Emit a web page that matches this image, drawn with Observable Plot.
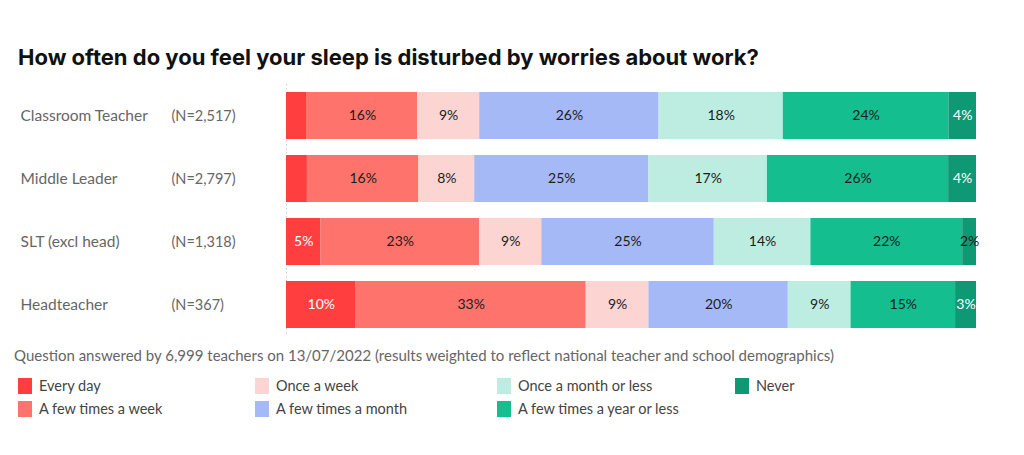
<!DOCTYPE html>
<html>
<head>
<meta charset="utf-8">
<script src="https://cdn.jsdelivr.net/npm/d3@7"></script>
<script src="https://cdn.jsdelivr.net/npm/@observablehq/plot@0.6"></script>
<style>
  html, body { margin: 0; padding: 0; background: #fff; }
  body { width: 1024px; height: 455px; position: relative; overflow: hidden; font-family: Lato, "Noto Sans", sans-serif; }
  #title { position: absolute; left: 18px; top: 44px; font-family: Inter, Lato, sans-serif; font-weight: 700; font-size: 22px; color: #111; white-space: nowrap; }
  #chart { position: absolute; left: 0; top: 80px; }
  #caption { position: absolute; left: 14px; top: 346px; font-size: 15px; color: #666; white-space: nowrap; }
  #legend { position: absolute; left: 18px; top: 374px; display: grid; grid-template-columns: 237px 242px 238px 200px; grid-auto-flow: column; grid-template-rows: 23px 23px; }
  .item { display: flex; align-items: center; font-size: 14.5px; color: #444; white-space: nowrap; }
  .sw { width: 14px; height: 16px; margin-right: 7px; flex: none; }
</style>
</head>
<body>
<div id="title"></div>
<div id="chart"></div>
<div id="caption"></div>
<div id="legend"></div>
<script>
const titleText = "How often do you feel your sleep is disturbed by worries about work?";
const captionText = "Question answered by 6,999 teachers on 13/07/2022 (results weighted to reflect national teacher and school demographics)";

const roles = ["Classroom Teacher", "Middle Leader", "SLT (excl head)", "Headteacher"];
const sampleSizes = ["(N=2,517)", "(N=2,797)", "(N=1,318)", "(N=367)"];

const categories = ["Every day", "A few times a week", "Once a week", "A few times a month", "Once a month or less", "A few times a year or less", "Never"];
const colors = ["#ff3f3f", "#ff736d", "#fcd4d2", "#a6b9f7", "#bdede0", "#14be8f", "#0f9874"];

const everyDay      = [3, 3, 5, 10];
const fewTimesWeek  = [16, 16, 23, 33];
const onceWeek      = [9, 8, 9, 9];
const fewTimesMonth = [26, 25, 25, 20];
const onceMonth     = [18, 17, 14, 9];
const fewTimesYear  = [24, 26, 22, 15];
const never         = [4, 4, 2, 3];

const series = [everyDay, fewTimesWeek, onceWeek, fewTimesMonth, onceMonth, fewTimesYear, never];

const data = [];
categories.forEach((cat, ci) => {
  roles.forEach((role, ri) => {
    data.push({role, cat, value: series[ci][ri]});
  });
});

const nByRole = new Map(roles.map((r, i) => [r, sampleSizes[i]]));

document.getElementById("title").textContent = titleText;
document.getElementById("caption").textContent = captionText;

const labelFont = "Lato, 'Noto Sans', sans-serif";
const whiteCats = new Set(["Every day", "Never"]);

const chart = Plot.plot({
  width: 1024,
  height: 258,
  marginTop: 12,
  marginBottom: 10,
  marginLeft: 286,
  marginRight: 48,
  style: {fontFamily: labelFont, fontSize: "15px", background: "white"},
  x: {domain: [0, 1], axis: null},
  y: {domain: roles, paddingInner: 0.254, paddingOuter: 0, label: null},
  color: {domain: categories, range: colors},
  marks: [
    Plot.ruleX([0], {stroke: "#cfcfcf", strokeDasharray: "1.5,2.5", strokeWidth: 1, insetTop: -8, insetBottom: -8}),
    Plot.barX(data, Plot.stackX({x: "value", y: "role", fill: "cat", order: categories, offset: "normalize"})),
    Plot.text(data, Plot.stackX({
      x: "value", y: "role", z: "cat", order: categories, offset: "normalize",
      text: d => (d.cat === "Every day" && d.value < 4) ? null : d.value + "%",
      fill: d => (whiteCats.has(d.cat) && d.value > 2) ? "white" : "#1c1c1c",
      fontSize: 14
    })),
    Plot.axisY({tickSize: 0, textAnchor: "start", dx: -256, fill: "#666", tickPadding: 10, label: null, fontSize: 15.5}),
    Plot.axisY({tickSize: 0, textAnchor: "start", dx: -105, fill: "#666", tickPadding: 10, label: null, fontSize: 14.5, tickFormat: r => nByRole.get(r)})
  ]
});
document.getElementById("chart").appendChild(chart);

const legend = document.getElementById("legend");
categories.forEach((c, i) => {
  const item = document.createElement("div");
  item.className = "item";
  const sw = document.createElement("span");
  sw.className = "sw";
  sw.style.background = colors[i];
  item.appendChild(sw);
  item.appendChild(document.createTextNode(c));
  legend.appendChild(item);
});
</script>
</body>
</html>
